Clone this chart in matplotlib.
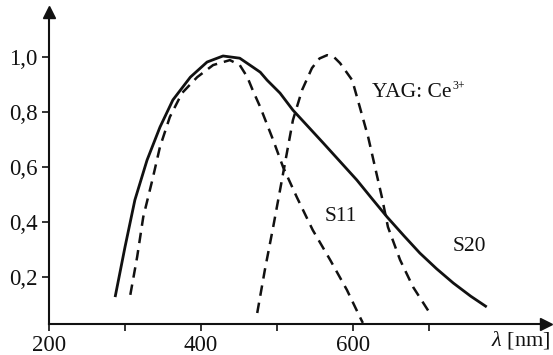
import numpy as np
import matplotlib
matplotlib.use("Agg")
import matplotlib.pyplot as plt

# S20 photocathode response (solid)
s20_wl = [287, 300, 313, 329, 346, 363, 386, 408, 429, 451, 468, 478, 487, 504, 521,
          540, 561, 583, 605, 625, 645, 667, 688, 710, 732, 755, 776]
s20_val = [0.127, 0.309, 0.48, 0.625, 0.745, 0.844, 0.927, 0.982, 1.004, 0.996, 0.964, 0.945, 0.916,
           0.869, 0.807, 0.75, 0.687, 0.62, 0.553, 0.485, 0.418, 0.35, 0.287, 0.23, 0.178, 0.13, 0.091]

# S11 photocathode response (dashed)
s11_wl = [307, 316, 324, 336, 346, 359, 375, 395, 416, 438, 451, 461, 468, 478, 495,
          508, 526, 547, 570, 592, 609, 613]
s11_val = [0.135, 0.273, 0.418, 0.553, 0.673, 0.782, 0.869, 0.927, 0.971, 0.989, 0.971, 0.927, 0.88,
           0.818, 0.698, 0.6, 0.491, 0.371, 0.262, 0.153, 0.055, 0.033]

# YAG:Ce3+ emission (dashed)
yag_wl = [474, 484, 495, 504, 513, 521, 533, 546, 556, 566, 575, 583, 599, 609, 620,
          629, 638, 646, 662, 679, 701]
yag_val = [0.069, 0.225, 0.382, 0.516, 0.651, 0.771, 0.88, 0.96, 0.995, 1.007, 1.0, 0.978, 0.916,
           0.818, 0.709, 0.6, 0.491, 0.382, 0.262, 0.164, 0.069]

xticks = [200, 300, 400, 500, 600, 700]
xticklabels = ["200", "", "400", "", "600", ""]
yticks = [0.2, 0.4, 0.6, 0.8, 1.0]
yticklabels = ["0,2", "0,4", "0,6", "0,8", "1,0"]

plt.rcParams["font.family"] = ["Liberation Serif", "DejaVu Serif"]
plt.rcParams["mathtext.fontset"] = "custom"
plt.rcParams["mathtext.rm"] = "Liberation Serif"
plt.rcParams["mathtext.it"] = "Liberation Serif:italic"

W, H = 553, 355
fig = plt.figure(figsize=(W / 100, H / 100), dpi=100)
ax_left, ax_right = 49 / W, 546 / W
ax_bottom, ax_top = (H - 324) / H, (H - 12) / H
ax = fig.add_axes([ax_left, ax_bottom, ax_right - ax_left, ax_top - ax_bottom])

ax.set_xlim(200, 854)
ax.set_ylim(0.029, 1.164)

ink = "#111111"
ax.plot(s20_wl, s20_val, color=ink, lw=2.0, solid_capstyle="butt", solid_joinstyle="round")
ax.plot(s11_wl, s11_val, color=ink, lw=1.8, dashes=(4.2, 2.8))
ax.plot(yag_wl, yag_val, color=ink, lw=1.8, dashes=(4.2, 2.8))

for s in ["top", "right"]:
    ax.spines[s].set_visible(False)
for s in ["left", "bottom"]:
    ax.spines[s].set_color(ink)
    ax.spines[s].set_linewidth(1.5)

ax.plot(1, 0, marker=">", color=ink, markersize=9, transform=ax.transAxes, clip_on=False)
ax.plot(0, 1, marker="^", color=ink, markersize=9, transform=ax.transAxes, clip_on=False)

ax.set_xticks(xticks)
ax.set_xticklabels(xticklabels)
ax.set_yticks(yticks)
ax.set_yticklabels(yticklabels)
ax.tick_params(direction="out", length=5, width=1.2, color=ink, labelsize=16.5,
               labelcolor=ink, pad=3)

t = ax.text(625, 0.87, "YAG: Ce", fontsize=15.5, color=ink, va="center", ha="left")
ax.text(563, 0.42, "S11", fontsize=15.5, color=ink, va="center", ha="left")
ax.text(731, 0.31, "S20", fontsize=15.5, color=ink, va="center", ha="left")
fig.text(550 / W, (H - 340) / H, r"$\lambda$ [nm]", fontsize=16, color=ink,
         ha="right", va="center")

fig.canvas.draw()
bb = t.get_window_extent()
fig.text((bb.x1 + 0.5) / W, (H - 86) / H, "3+", fontsize=8.5, color=ink,
         ha="left", va="center")

fig.savefig("out.png", dpi=100, facecolor="white")
